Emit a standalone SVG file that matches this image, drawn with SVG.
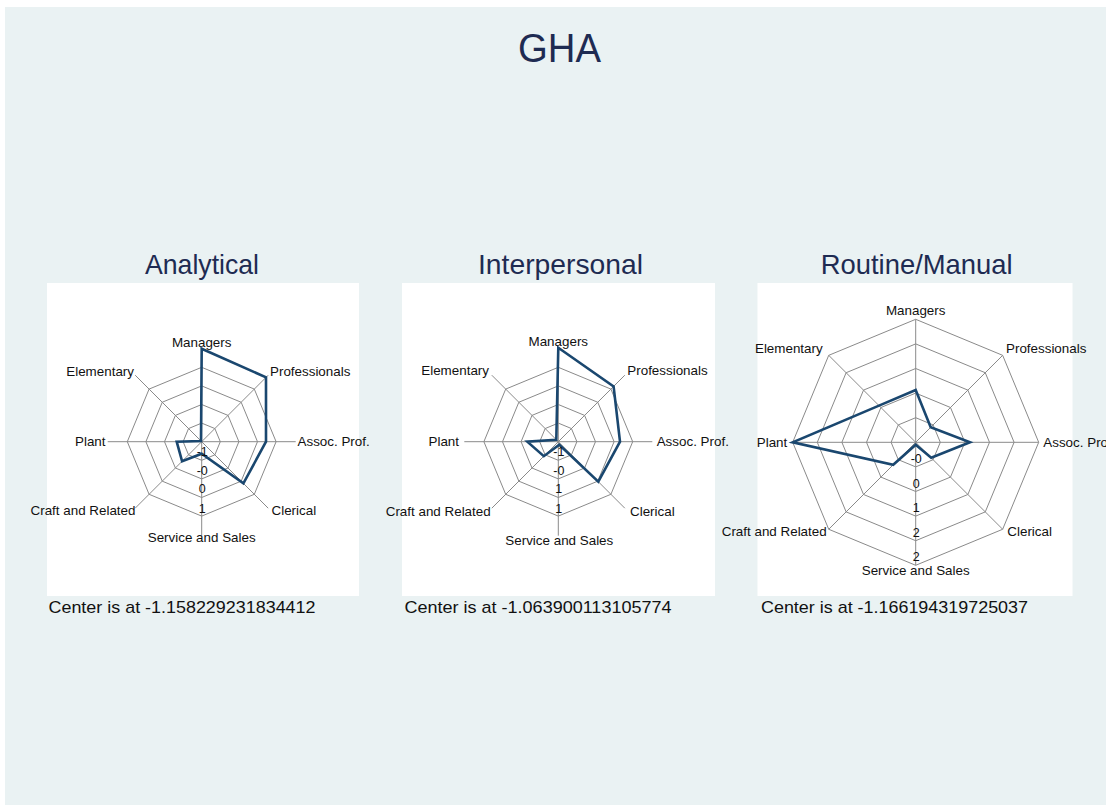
<svg xmlns="http://www.w3.org/2000/svg" xmlns:xlink="http://www.w3.org/1999/xlink" width="1106" height="805" viewBox="0 0 1106 805">
<style>
.bg{fill:#eaf2f3}
.panel{fill:#ffffff}
.ttl{font-family:"Liberation Sans",Arial,sans-serif;fill:#1e2b52}
.grid{fill:none;stroke:#8a8a8a;stroke-width:1}
.data{fill:none;stroke:#1a476f;stroke-width:2.6;stroke-linejoin:miter}
.lab{font-family:"Liberation Sans",Arial,sans-serif;font-size:13.4px;fill:#111}
.tick{font-family:"Liberation Sans",Arial,sans-serif;font-size:12.5px;fill:#111;text-anchor:middle}
.note{font-family:"Liberation Sans",Arial,sans-serif;font-size:17px;fill:#111}
.mid{text-anchor:middle}
.end{text-anchor:end}
</style>
<defs>
<g id="web4">
<polygon class="grid" points="0,-18.6 13.15,-13.15 18.6,0 13.15,13.15 0,18.6 -13.15,13.15 -18.6,0 -13.15,-13.15"/>
<polygon class="grid" points="0,-37.2 26.3,-26.3 37.2,0 26.3,26.3 0,37.2 -26.3,26.3 -37.2,0 -26.3,-26.3"/>
<polygon class="grid" points="0,-55.8 39.46,-39.46 55.8,0 39.46,39.46 0,55.8 -39.46,39.46 -55.8,0 -39.46,-39.46"/>
<polygon class="grid" points="0,-74.4 52.61,-52.61 74.4,0 52.61,52.61 0,74.4 -52.61,52.61 -74.4,0 -52.61,-52.61"/>
<path class="grid" d="M0,0V-94M0,0L66.5,-66.5M0,0H94M0,0L66.5,66.5M0,0V94M0,0L-66.5,66.5M0,0H-94M0,0L-66.5,-66.5"/>
</g>
<g id="web5">
<polygon class="grid" points="0,-24.6 17.39,-17.39 24.6,0 17.39,17.39 0,24.6 -17.39,17.39 -24.6,0 -17.39,-17.39"/>
<polygon class="grid" points="0,-49.2 34.79,-34.79 49.2,0 34.79,34.79 0,49.2 -34.79,34.79 -49.2,0 -34.79,-34.79"/>
<polygon class="grid" points="0,-73.8 52.18,-52.18 73.8,0 52.18,52.18 0,73.8 -52.18,52.18 -73.8,0 -52.18,-52.18"/>
<polygon class="grid" points="0,-98.4 69.58,-69.58 98.4,0 69.58,69.58 0,98.4 -69.58,69.58 -98.4,0 -69.58,-69.58"/>
<polygon class="grid" points="0,-123 86.97,-86.97 123,0 86.97,86.97 0,123 -86.97,86.97 -123,0 -86.97,-86.97"/>
<path class="grid" d="M0,0V-123M0,0L86.97,-86.97M0,0H123M0,0L86.97,86.97M0,0V123M0,0L-86.97,86.97M0,0H-123M0,0L-86.97,-86.97"/>
</g>
</defs>
<rect x="0" y="0" width="1106" height="805" fill="#ffffff"/>
<rect class="bg" x="5" y="7" width="1101" height="798"/>
<text class="ttl mid" x="559.5" y="62" font-size="41" textLength="83" lengthAdjust="spacingAndGlyphs">GHA</text>

<g id="chart-analytical">
<text class="ttl mid" x="202" y="273.5" font-size="28" textLength="114" lengthAdjust="spacingAndGlyphs">Analytical</text>
<rect class="panel" x="47" y="283" width="312" height="313"/>
<g transform="translate(201.7,441.7)">
<use href="#web4"/>
<polygon class="data" points="0,-93 64.3,-64.3 64.3,0 41.7,41.7 0,12 -19.6,19.6 -25,0 -0.7,-0.7"/>
</g>
<g class="tick">
<text x="202.2" y="455.5">-1</text>
<text x="202.2" y="475">-0</text>
<text x="202.2" y="493">0</text>
<text x="202.2" y="512.5">1</text>
</g>
<text class="lab mid" x="201.7" y="347">Managers</text>
<text class="lab" x="270" y="376">Professionals</text>
<text class="lab" x="297.5" y="446">Assoc. Prof.</text>
<text class="lab" x="271.5" y="515">Clerical</text>
<text class="lab mid" x="201.7" y="542">Service and Sales</text>
<text class="lab end" x="135.5" y="515">Craft and Related</text>
<text class="lab end" x="105.5" y="446">Plant</text>
<text class="lab end" x="134" y="376">Elementary</text>
<text class="note" x="48.5" y="612.5" textLength="267" lengthAdjust="spacingAndGlyphs">Center is at -1.158229231834412</text>
</g>

<g id="chart-interpersonal">
<text class="ttl mid" x="560.5" y="273.5" font-size="28" textLength="165" lengthAdjust="spacingAndGlyphs">Interpersonal</text>
<rect class="panel" x="402" y="283" width="313" height="313"/>
<g transform="translate(558.3,441.7)">
<use href="#web4"/>
<polygon class="data" points="0,-94 55.3,-55.3 61.7,0 40,40 1,3 -14.5,14.5 -31,0 -2,-2"/>
</g>
<g class="tick">
<text x="558.8" y="455.5">-1</text>
<text x="558.8" y="475">-0</text>
<text x="558.8" y="493">1</text>
<text x="558.8" y="512.5">1</text>
</g>
<text class="lab mid" x="558.3" y="345.5">Managers</text>
<text class="lab" x="627.3" y="375">Professionals</text>
<text class="lab" x="656.7" y="446">Assoc. Prof.</text>
<text class="lab" x="630" y="516">Clerical</text>
<text class="lab mid" x="559.3" y="545">Service and Sales</text>
<text class="lab end" x="490.7" y="516">Craft and Related</text>
<text class="lab end" x="459" y="446">Plant</text>
<text class="lab end" x="489" y="375">Elementary</text>
<text class="note" x="404.5" y="612.5" textLength="267" lengthAdjust="spacingAndGlyphs">Center is at -1.063900113105774</text>
</g>

<g id="chart-routine-manual">
<text class="ttl mid" x="916.7" y="273.5" font-size="28" textLength="192" lengthAdjust="spacingAndGlyphs">Routine/Manual</text>
<rect class="panel" x="757.5" y="283" width="315" height="313"/>
<g transform="translate(915.7,442.3)">
<use href="#web5"/>
<polygon class="data" points="0,-52.3 15,-15 54.3,0 15.5,15.5 0,2.5 -22.5,22.5 -123,0 -36.7,-36.7"/>
</g>
<g class="tick">
<text x="916.2" y="463">-0</text>
<text x="916.2" y="487.5">0</text>
<text x="916.2" y="512">1</text>
<text x="916.2" y="536.5">2</text>
<text x="916.2" y="561">2</text>
</g>
<text class="lab mid" x="915.7" y="315">Managers</text>
<text class="lab" x="1006" y="353">Professionals</text>
<text class="lab" x="1043.3" y="447">Assoc. Prof.</text>
<text class="lab" x="1007.3" y="536">Clerical</text>
<text class="lab mid" x="915.7" y="575">Service and Sales</text>
<text class="lab end" x="826.7" y="536">Craft and Related</text>
<text class="lab end" x="787.3" y="447">Plant</text>
<text class="lab end" x="822.7" y="353">Elementary</text>
<text class="note" x="761" y="612.5" textLength="267" lengthAdjust="spacingAndGlyphs">Center is at -1.166194319725037</text>
</g>
</svg>
